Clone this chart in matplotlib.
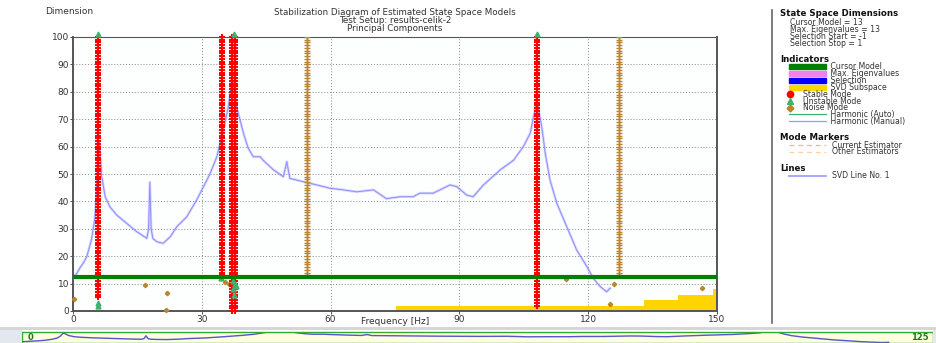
import numpy as np
import matplotlib
matplotlib.use("Agg")
import matplotlib.pyplot as plt
from matplotlib.patches import Rectangle
from matplotlib.lines import Line2D

# ---------------- data ----------------
svd_freq = [0, 0.8, 1.6, 2.4, 3.2, 4.3, 5.1, 5.5, 5.9, 6.1, 6.7, 7.5, 8.6, 10.2, 12.5,
            14.8, 17.2, 17.6, 17.9, 18.2, 18.6, 19.5, 21, 22.6, 24.2, 26.5, 28.8, 30.4,
            31.9, 33.5, 35, 36.2, 37.0, 37.4, 38.1, 38.9, 39.7, 40.8, 42, 43.6, 44.3,
            46.7, 49, 49.8, 50.5, 53.6, 56.8, 59.9, 63, 66.1, 70, 73, 76.2, 79.2, 80.8,
            83.9, 87.8, 89.4, 91.7, 93.2, 95.6, 99.5, 102.6, 104.9, 106.5, 107.6, 108,
            109.2, 110, 111.1, 112.7, 115, 117.3, 119.7, 121.2, 122.8, 124.3, 125.1]
svd_vals = [12, 13.5, 15.7, 17.5, 19.8, 26, 34, 44, 61, 62, 49, 41.7, 38, 35, 32,
            29, 26.5, 30, 47, 30, 26.5, 25.3, 24.7, 27, 30.8, 34.4, 40.5, 45.4,
            50, 56.3, 66, 74.6, 84, 82, 74.6, 69.7, 64.9, 59.4, 56.3, 56.3, 55,
            51.5, 49, 54.5, 48.4, 47.2, 46, 44.8, 44.2, 43.5, 44.2, 41, 41.7, 41.7, 43,
            43, 46, 45.4, 42.3, 41.7, 46, 51.5, 55, 60, 64.9, 73.4, 77.6,
            67, 57.5, 47.8, 39.3, 30.8, 22.3, 16.2, 11.9, 8.9, 7, 8.3]

# stable mode columns: (frequency, first order, last order)
stable_freq = [5.9, 34.6, 37.1, 37.7, 108.1]
stable_from = [5, 13, 0, 0, 2]
stable_to = [100, 100, 100, 100, 100]

# unstable modes (frequency, order)
unstable_freq = [5.9, 5.9, 5.9, 37.4, 108.1, 34.4, 37.2, 37.8, 37.5, 37.9, 37.3]
unstable_ord = [101, 3, 2, 101, 101, 12, 11, 10, 6, 9, 8]

# noise mode columns
noise_col_freq = [54.5, 127.2]
noise_col_from = [13, 13]
noise_col_to = [100, 100]
# scattered noise modes
noise_freq = [0.3, 16.8, 22.0, 21.7, 35.4, 36.3, 114.8, 125.9, 125.1, 146.4]
noise_ord = [4.5, 9.5, 6.5, 0.3, 10.5, 10.0, 11.7, 10, 2.5, 8.5]

cursor_model = 12.5

# SVD subspace steps
sub_freq = [75.2, 133.0, 141.0, 149.0, 150.0]
sub_height = [1.8, 4.0, 5.8, 8.0, 8.0]

xticks = [0, 30, 60, 90, 120, 150]
yticks = list(range(0, 101, 10))

# ---------------- figure ----------------
plt.rcParams['font.family'] = ['DejaVu Sans']
fig = plt.figure(figsize=(9.36, 3.43), dpi=100)
fig.patch.set_facecolor("white")


def fy(y):
    return 1 - y / 343


def fx(x):
    return x / 936


ax = fig.add_axes([73/936, 32/343, 644/936, 274/343])
ax.set_xlim(0, 150)
ax.set_ylim(0, 100)
ax.set_facecolor("#fdfefe")

ax.set_xticks(xticks)
ax.set_yticks(yticks)
ax.tick_params(labelsize=6.5, length=2, width=0.6, pad=0.8, colors="#333333")
ax.grid(True, linestyle=(0, (1, 2)), color="#888888", linewidth=0.7)
for s in ["left", "bottom", "right"]:
    ax.spines[s].set_color("#555555")
    ax.spines[s].set_linewidth(1.4)
ax.spines["top"].set_linestyle((0, (1, 1)))
ax.spines["top"].set_color("#555555")

# SVD subspace (yellow step area)
ax.fill_between(sub_freq, 0, sub_height, step="post", color="#ffd400", zorder=2, lw=0)

# SVD line
ax.plot(svd_freq, svd_vals, color="#9a9aff", lw=1.8, alpha=0.45, zorder=3)
ax.plot(svd_freq, svd_vals, color="#7777ff", lw=0.6, alpha=0.8, zorder=3)

# noise columns
for f, a, b in zip(noise_col_freq, noise_col_from, noise_col_to):
    o = np.arange(a, b + 1)
    ax.plot(np.full(o.shape, f), o, linestyle="none", marker="+", ms=4, mew=1.0,
            color="#b8862b", zorder=4)
ax.plot(noise_freq, noise_ord, linestyle="none", marker="D", ms=2.2,
        color="#b8862b", zorder=4, clip_on=False)

# stable columns
for f, a, b in zip(stable_freq, stable_from, stable_to):
    o = np.arange(a, b + 1)
    ax.plot(np.full(o.shape, f), o, linestyle="none", marker="+", ms=5, mew=1.5,
            color="#ff0000", zorder=5, clip_on=False)

# unstable
ax.plot(unstable_freq, unstable_ord, linestyle="none", marker="^", ms=3.5,
        color="#3cb371", zorder=6, clip_on=False)

# cursor model line
ax.axhline(cursor_model, color="#008000", lw=3, zorder=7)

fig.text(fx(395), fy(322), "Frequency [Hz]", fontsize=6.5, ha="center", va="center",
         color="#333333")

# titles
fig.text(fx(45), fy(12), "Dimension", fontsize=6.5, ha="left", va="center", color="#333333")
fig.text(fx(395), fy(20.3),
         "Stabilization Diagram of Estimated State Space Models\n"
         "Test Setup: results-celik-2\nPrincipal Components",
         fontsize=6.3, ha="center", va="center", color="#333333", linespacing=0.88)

# right legend panel
fig.add_artist(Line2D([fx(772)] * 2, [fy(10), fy(323)], color="#666666", lw=1.2))

hdr = dict(fontsize=6.2, fontweight="bold", ha="left", va="center", color="#111111")
txt = dict(fontsize=5.6, ha="left", va="center", color="#333333", linespacing=0.70)

fig.text(fx(780), fy(14.0), "State Space Dimensions", **hdr)
fig.text(fx(790), fy(32.9), "Cursor Model = 13\nMax. Eigenvalues = 13\n"
         "Selection Start = -1\nSelection Stop = 1", **txt)

fig.text(fx(780), fy(59.2), "Indicators", **hdr)
for y, c in [(66.7, "#008000"), (73.5, "#ee82ee"), (80.3, "#0000ff"), (87.1, "#ffd700")]:
    fig.add_artist(Rectangle((fx(789), fy(y) - 2.6/343), fx(37), 5.2/343, color=c))
pad = " " * 11
fig.text(fx(803), fy(94.1),
         pad + "Cursor Model\n" + pad + "Max. Eigenvalues\n" + pad + "Selection\n" +
         pad + "SVD Subspace\nStable Mode\nUnstable Mode\nNoise Mode\n" +
         pad + "Harmonic (Auto)\n" + pad + "Harmonic (Manual)", **txt)

fig.add_artist(Line2D([fx(790)], [fy(94)], marker="o", ms=4.5, color="#ff0000", linestyle="none"))
fig.add_artist(Line2D([fx(790)], [fy(100.8)], marker="^", ms=4.5, color="#3cb371", linestyle="none"))
fig.add_artist(Line2D([fx(790)], [fy(107.6)], marker="D", ms=3.5, color="#b8862b", linestyle="none"))
fig.add_artist(Line2D([fx(789), fx(826)], [fy(114.5)] * 2, color="#3cb371", lw=0.9))
fig.add_artist(Line2D([fx(789), fx(826)], [fy(121.4)] * 2, color="#9999ff", lw=0.9))

fig.text(fx(780), fy(137.5), "Mode Markers", **hdr)
fig.add_artist(Line2D([fx(789), fx(826)], [fy(145)] * 2, color="#ffaaaa", lw=0.9, linestyle=(0, (4, 3))))
fig.add_artist(Line2D([fx(789), fx(826)], [fy(152)] * 2, color="#ffd0a0", lw=0.9, linestyle=(0, (4, 3))))
fig.text(fx(832), fy(148.5), "Current Estimator\nOther Estimators", **txt)

fig.text(fx(780), fy(168.5), "Lines", **hdr)
fig.add_artist(Line2D([fx(789), fx(826)], [fy(175.6)] * 2, color="#a0a0ff", lw=1.3))
fig.text(fx(832), fy(175.6), "SVD Line No. 1", **txt)

# separator band and side panels around overview strip
fig.add_artist(Rectangle((0, fy(330)), 1, 3.5/343, color="#d6d6d6", lw=0))
fig.add_artist(Rectangle((0, 0), fx(22), fy(330), color="#e2e8ee", lw=0))
fig.add_artist(Rectangle((fx(933), 0), fx(3), fy(330), color="#e2e8ee", lw=0))

# overview strip
ax2 = fig.add_axes([fx(22), 0, 911/936, 11.3/343])
ax2.set_facecolor("#fdfde0")
ax2.plot(svd_freq, svd_vals, color="#5555cc", lw=1.0)
ax2.set_xlim(0, 131.5)
ax2.set_ylim(4.2, 71.4)
ax2.set_xticks([])
ax2.set_yticks([])
for s in ax2.spines.values():
    s.set_color("#33aa33")
    s.set_linewidth(1.0)
ax2.text(0.006, 0.45, "0", transform=ax2.transAxes, fontsize=6, fontweight="bold",
         color="#1a7a1a", va="center", ha="left")
ax2.text(0.995, 0.45, "125", transform=ax2.transAxes, fontsize=6, fontweight="bold",
         color="#1a7a1a", va="center", ha="right")

fig.savefig("out.png", dpi=100)
